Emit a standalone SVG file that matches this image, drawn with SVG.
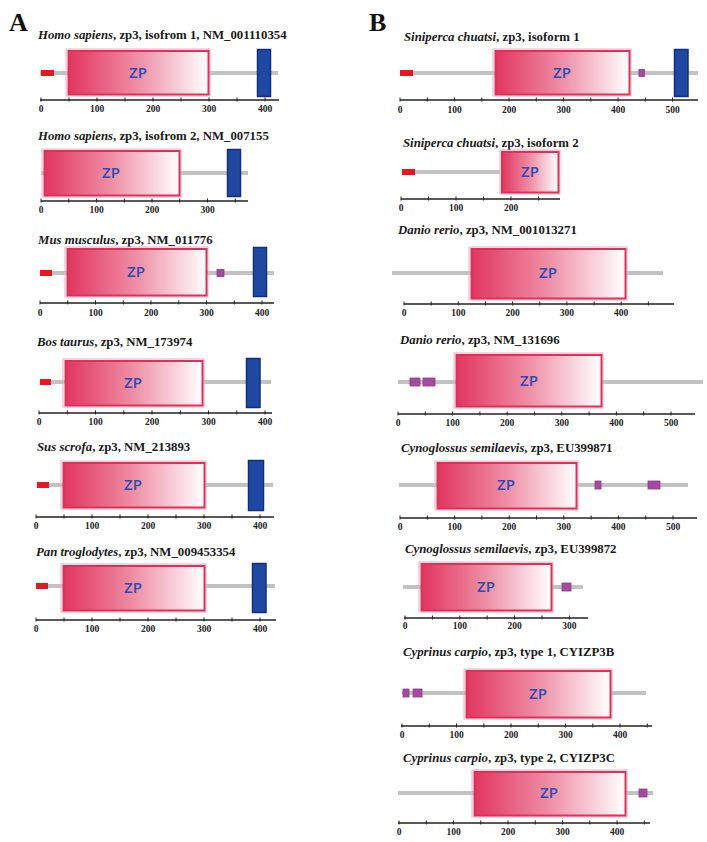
<svg xmlns="http://www.w3.org/2000/svg" width="707" height="842" viewBox="0 0 707 842">
<defs>
<linearGradient id="zpg" x1="0" y1="0" x2="1" y2="0">
<stop offset="0" stop-color="#e13660"/>
<stop offset="0.5" stop-color="#ee8fa5"/>
<stop offset="1" stop-color="#ffffff"/>
</linearGradient>
</defs>
<style>
.panel{font-family:"Liberation Serif",serif;font-size:26px;font-weight:bold;fill:#111}
.title{font-family:"Liberation Serif",serif;font-size:12.8px;font-weight:bold;fill:#1a1a1a}
.sp{font-style:italic}
.tl{font-family:"Liberation Serif",serif;font-size:9.5px;font-weight:bold;fill:#222;text-anchor:middle}
.ln{fill:#c2c2c2}
.sig{fill:#e8161f}
.pu{fill:#a44a9f;stroke:#8c3a8c;stroke-width:0.8}
.tm{fill:#1f48a2;stroke:#10307e;stroke-width:1.5}
.zo{fill:none;stroke:#f6b0c2;stroke-width:1}
.zi{fill:url(#zpg);stroke:#e22e5a;stroke-width:2}
.zt{font-family:"Open Sans",sans-serif;font-size:15px;font-weight:600;fill:#2a4cb4;text-anchor:middle}
.ax{stroke:#222;stroke-width:1.6;fill:none}
.tk{stroke:#222;stroke-width:1;fill:none}
</style>
<text class="panel" x="9" y="31">A</text>
<text class="panel" x="369" y="31">B</text>

<g id="A1">
<text class="title" x="38" y="39"><tspan class="sp">Homo sapiens</tspan>, zp3, isofrom 1, NM_001110354</text>
<rect class="ln" x="40" y="71" width="238" height="4"/>
<rect class="sig" x="41" y="70" width="13" height="6"/>
<rect class="zo" x="66" y="49" width="144" height="47"/>
<rect class="zi" x="68.5" y="51" width="140" height="43.5"/>
<text class="zt" x="138" y="78">ZP</text>
<rect class="tm" x="257.5" y="49.5" width="13" height="47"/>
<path class="ax" d="M40 100H279"/>
<path class="tk" d="M41 97.5v4M69 97.5v4M97 97.5v4M125 97.5v4M153 97.5v4M181 97.5v4M209 97.5v4M237 97.5v4M265 97.5v4"/>
<text class="tl" x="41" y="112">0</text><text class="tl" x="97" y="112">100</text><text class="tl" x="153" y="112">200</text><text class="tl" x="209" y="112">300</text><text class="tl" x="265" y="112">400</text>
</g>

<g id="A2">
<text class="title" x="38" y="140"><tspan class="sp">Homo sapiens</tspan>, zp3, isofrom 2, NM_007155</text>
<rect class="ln" x="41" y="171" width="207" height="4"/>
<rect class="zo" x="42" y="149" width="139" height="48"/>
<rect class="zi" x="44.5" y="151" width="135" height="44.5"/>
<text class="zt" x="111" y="178">ZP</text>
<rect class="tm" x="227.5" y="149.5" width="13" height="47"/>
<path class="ax" d="M41 201H248"/>
<path class="tk" d="M41 198.5v4M68.8 198.5v4M96.5 198.5v4M124.3 198.5v4M152 198.5v4M179.8 198.5v4M207.5 198.5v4M235.3 198.5v4"/>
<text class="tl" x="41" y="213">0</text><text class="tl" x="96.5" y="213">100</text><text class="tl" x="152" y="213">200</text><text class="tl" x="207.5" y="213">300</text>
</g>

<g id="A3">
<text class="title" x="38" y="244"><tspan class="sp">Mus musculus</tspan>, zp3, NM_011776</text>
<rect class="ln" x="40" y="271" width="234" height="4"/>
<rect class="sig" x="40" y="270" width="12" height="6"/>
<rect class="zo" x="65" y="247" width="143" height="50"/>
<rect class="zi" x="67.5" y="249" width="139" height="46.5"/>
<text class="zt" x="136" y="277">ZP</text>
<rect class="pu" x="217" y="269.5" width="7" height="7"/>
<rect class="tm" x="253.5" y="247.5" width="13" height="49"/>
<path class="ax" d="M40 303H274"/>
<path class="tk" d="M40 300.5v4M67.8 300.5v4M95.5 300.5v4M123.3 300.5v4M151 300.5v4M178.8 300.5v4M206.5 300.5v4M234.3 300.5v4M262 300.5v4"/>
<text class="tl" x="40" y="316">0</text><text class="tl" x="95.5" y="316">100</text><text class="tl" x="151" y="316">200</text><text class="tl" x="206.5" y="316">300</text><text class="tl" x="262" y="316">400</text>
</g>

<g id="A4">
<text class="title" x="37" y="346"><tspan class="sp">Bos taurus</tspan>, zp3, NM_173974</text>
<rect class="ln" x="40" y="380" width="231" height="4"/>
<rect class="sig" x="40" y="379" width="11" height="6"/>
<rect class="zo" x="63" y="359" width="141" height="48"/>
<rect class="zi" x="65.5" y="361" width="137" height="44.5"/>
<text class="zt" x="133" y="388">ZP</text>
<rect class="tm" x="246.5" y="358.5" width="13.5" height="49"/>
<path class="ax" d="M39 413H272"/>
<path class="tk" d="M39 410.5v4M67.3 410.5v4M95.5 410.5v4M123.8 410.5v4M152 410.5v4M180.3 410.5v4M208.5 410.5v4M236.8 410.5v4M265 410.5v4"/>
<text class="tl" x="39" y="425">0</text><text class="tl" x="95.5" y="425">100</text><text class="tl" x="152" y="425">200</text><text class="tl" x="208.5" y="425">300</text><text class="tl" x="265" y="425">400</text>
</g>

<g id="A5">
<text class="title" x="37" y="451"><tspan class="sp">Sus scrofa</tspan>, zp3, NM_213893</text>
<rect class="ln" x="37" y="483" width="236" height="4"/>
<rect class="sig" x="37" y="482" width="12" height="6"/>
<rect class="zo" x="61" y="461" width="145" height="48"/>
<rect class="zi" x="63.5" y="463" width="141" height="44.5"/>
<text class="zt" x="133" y="490">ZP</text>
<rect class="tm" x="248.5" y="460.5" width="15" height="50"/>
<path class="ax" d="M36 517H274"/>
<path class="tk" d="M36 514.5v4M64 514.5v4M92 514.5v4M120 514.5v4M148 514.5v4M176 514.5v4M204 514.5v4M232 514.5v4M260 514.5v4"/>
<text class="tl" x="36" y="529">0</text><text class="tl" x="92" y="529">100</text><text class="tl" x="148" y="529">200</text><text class="tl" x="204" y="529">300</text><text class="tl" x="260" y="529">400</text>
</g>

<g id="A6">
<text class="title" x="36" y="556"><tspan class="sp">Pan troglodytes</tspan>, zp3, NM_009453354</text>
<rect class="ln" x="36" y="584" width="239" height="4"/>
<rect class="sig" x="36" y="583" width="12" height="6"/>
<rect class="zo" x="61" y="564" width="145" height="48"/>
<rect class="zi" x="63.5" y="566" width="141" height="44.5"/>
<text class="zt" x="133" y="593">ZP</text>
<rect class="tm" x="252.5" y="563.5" width="13.5" height="49"/>
<path class="ax" d="M36 620H276"/>
<path class="tk" d="M36 617.5v4M64 617.5v4M92 617.5v4M120 617.5v4M148 617.5v4M176 617.5v4M204 617.5v4M232 617.5v4M260 617.5v4"/>
<text class="tl" x="36" y="632">0</text><text class="tl" x="92" y="632">100</text><text class="tl" x="148" y="632">200</text><text class="tl" x="204" y="632">300</text><text class="tl" x="260" y="632">400</text>
</g>

<g id="B1">
<text class="title" x="404" y="41"><tspan class="sp">Siniperca chuatsi</tspan>, zp3, isoform 1</text>
<rect class="ln" x="400" y="71" width="298" height="4"/>
<rect class="sig" x="400" y="70" width="13" height="6"/>
<rect class="zo" x="493" y="49" width="138" height="47"/>
<rect class="zi" x="495.5" y="51" width="134" height="43.5"/>
<text class="zt" x="562" y="78">ZP</text>
<rect class="pu" x="639" y="69.5" width="5.5" height="7"/>
<rect class="tm" x="674.5" y="49.5" width="13.5" height="47"/>
<path class="ax" d="M400 100H698"/>
<path class="tk" d="M400 97.5v4M427.3 97.5v4M454.5 97.5v4M481.8 97.5v4M509 97.5v4M536.3 97.5v4M563.5 97.5v4M590.8 97.5v4M618 97.5v4M645.3 97.5v4M672.5 97.5v4"/>
<text class="tl" x="400" y="113">0</text><text class="tl" x="454.5" y="113">100</text><text class="tl" x="509" y="113">200</text><text class="tl" x="563.5" y="113">300</text><text class="tl" x="618" y="113">400</text><text class="tl" x="672.5" y="113">500</text>
</g>

<g id="B2">
<text class="title" x="403" y="147"><tspan class="sp">Siniperca chuatsi</tspan>, zp3, isoform 2</text>
<rect class="ln" x="402" y="170" width="98" height="4"/>
<rect class="sig" x="402" y="169" width="13" height="6"/>
<rect class="zo" x="500" y="150" width="60" height="44"/>
<rect class="zi" x="502" y="152" width="56.5" height="40.5"/>
<text class="zt" x="530" y="177">ZP</text>
<path class="ax" d="M401 199H560"/>
<path class="tk" d="M401 196.5v4M428.5 196.5v4M456 196.5v4M483.5 196.5v4M511 196.5v4M538.5 196.5v4"/>
<text class="tl" x="401" y="211">0</text><text class="tl" x="456" y="211">100</text><text class="tl" x="511" y="211">200</text>
</g>

<g id="B3">
<text class="title" x="398" y="234"><tspan class="sp">Danio rerio</tspan>, zp3, NM_001013271</text>
<rect class="ln" x="392" y="271" width="271" height="4"/>
<rect class="zo" x="469" y="247" width="158" height="53"/>
<rect class="zi" x="471.5" y="249" width="154" height="49.5"/>
<text class="zt" x="548" y="278">ZP</text>
<path class="ax" d="M404 304H674"/>
<path class="tk" d="M404 301.5v4M431.2 301.5v4M458.3 301.5v4M485.5 301.5v4M512.6 301.5v4M539.8 301.5v4M566.9 301.5v4M594.1 301.5v4M621.2 301.5v4M648.4 301.5v4"/>
<text class="tl" x="404" y="316">0</text><text class="tl" x="458.3" y="316">100</text><text class="tl" x="512.6" y="316">200</text><text class="tl" x="566.9" y="316">300</text><text class="tl" x="621.2" y="316">400</text>
</g>

<g id="B4">
<text class="title" x="400" y="344"><tspan class="sp">Danio rerio</tspan>, zp3, NM_131696</text>
<rect class="ln" x="398" y="380" width="305" height="4"/>
<rect class="pu" x="410" y="378" width="10" height="8"/>
<rect class="pu" x="423" y="378" width="12" height="8"/>
<rect class="zo" x="454" y="353" width="149" height="55"/>
<rect class="zi" x="456.5" y="355" width="145" height="51.5"/>
<text class="zt" x="529" y="386">ZP</text>
<path class="ax" d="M398 414H695"/>
<path class="tk" d="M398 411.5v4M425.3 411.5v4M452.6 411.5v4M479.9 411.5v4M507.2 411.5v4M534.5 411.5v4M561.8 411.5v4M589.1 411.5v4M616.4 411.5v4M643.7 411.5v4M671 411.5v4"/>
<text class="tl" x="398" y="426">0</text><text class="tl" x="452.6" y="426">100</text><text class="tl" x="507.2" y="426">200</text><text class="tl" x="561.8" y="426">300</text><text class="tl" x="616.4" y="426">400</text><text class="tl" x="671" y="426">500</text>
</g>

<g id="B5">
<text class="title" x="401" y="452"><tspan class="sp">Cynoglossus semilaevis</tspan>, zp3, EU399871</text>
<rect class="ln" x="399" y="483" width="289" height="4"/>
<rect class="zo" x="435" y="461" width="143" height="49"/>
<rect class="zi" x="437.5" y="463" width="139" height="45.5"/>
<text class="zt" x="506" y="490">ZP</text>
<rect class="pu" x="595" y="481" width="6" height="8"/>
<rect class="pu" x="648" y="481" width="12" height="8"/>
<path class="ax" d="M400 518H697"/>
<path class="tk" d="M400 515.5v4M427.3 515.5v4M454.6 515.5v4M481.9 515.5v4M509.2 515.5v4M536.5 515.5v4M563.8 515.5v4M591.1 515.5v4M618.4 515.5v4M645.7 515.5v4M673 515.5v4"/>
<text class="tl" x="400" y="530">0</text><text class="tl" x="454.6" y="530">100</text><text class="tl" x="509.2" y="530">200</text><text class="tl" x="563.8" y="530">300</text><text class="tl" x="618.4" y="530">400</text><text class="tl" x="673" y="530">500</text>
</g>

<g id="B6">
<text class="title" x="405" y="553"><tspan class="sp">Cynoglossus semilaevis</tspan>, zp3, EU399872</text>
<rect class="ln" x="403" y="585" width="180" height="4"/>
<rect class="zo" x="419" y="562" width="134" height="50"/>
<rect class="zi" x="421.5" y="564" width="130" height="46.5"/>
<text class="zt" x="486" y="592">ZP</text>
<rect class="pu" x="562" y="583" width="9" height="8"/>
<path class="ax" d="M404 618H588"/>
<path class="tk" d="M405 615.5v4M432.4 615.5v4M459.8 615.5v4M487.2 615.5v4M514.6 615.5v4M542 615.5v4M569.4 615.5v4"/>
<text class="tl" x="405" y="629">0</text><text class="tl" x="459.8" y="629">100</text><text class="tl" x="514.6" y="629">200</text><text class="tl" x="569.4" y="629">300</text>
</g>

<g id="B7">
<text class="title" x="403" y="656"><tspan class="sp">Cyprinus carpio</tspan>, zp3, type 1, CYIZP3B</text>
<rect class="ln" x="402" y="691" width="244" height="4"/>
<rect class="pu" x="403" y="689" width="6" height="8"/>
<rect class="pu" x="413" y="689" width="9" height="8"/>
<rect class="zo" x="464" y="669" width="148" height="50"/>
<rect class="zi" x="466.5" y="671" width="144" height="46.5"/>
<text class="zt" x="538" y="699">ZP</text>
<path class="ax" d="M401 726H652"/>
<path class="tk" d="M402 723.5v4M429.3 723.5v4M456.5 723.5v4M483.8 723.5v4M511 723.5v4M538.3 723.5v4M565.5 723.5v4M592.8 723.5v4M620 723.5v4M647.3 723.5v4"/>
<text class="tl" x="402" y="738">0</text><text class="tl" x="456.5" y="738">100</text><text class="tl" x="511" y="738">200</text><text class="tl" x="565.5" y="738">300</text><text class="tl" x="620" y="738">400</text>
</g>

<g id="B8">
<text class="title" x="403" y="762"><tspan class="sp">Cyprinus carpio</tspan>, zp3, type 2, CYIZP3C</text>
<rect class="ln" x="398" y="791" width="255" height="4"/>
<rect class="zo" x="472" y="770" width="155" height="47"/>
<rect class="zi" x="474.5" y="772" width="151" height="43.5"/>
<text class="zt" x="549" y="798">ZP</text>
<rect class="pu" x="639" y="789" width="8" height="8"/>
<path class="ax" d="M398 823H650"/>
<path class="tk" d="M399 820.5v4M426.3 820.5v4M453.5 820.5v4M480.8 820.5v4M508 820.5v4M535.3 820.5v4M562.5 820.5v4M589.8 820.5v4M617 820.5v4M644.3 820.5v4"/>
<text class="tl" x="399" y="835">0</text><text class="tl" x="453.5" y="835">100</text><text class="tl" x="508" y="835">200</text><text class="tl" x="562.5" y="835">300</text><text class="tl" x="617" y="835">400</text>
</g>
</svg>
